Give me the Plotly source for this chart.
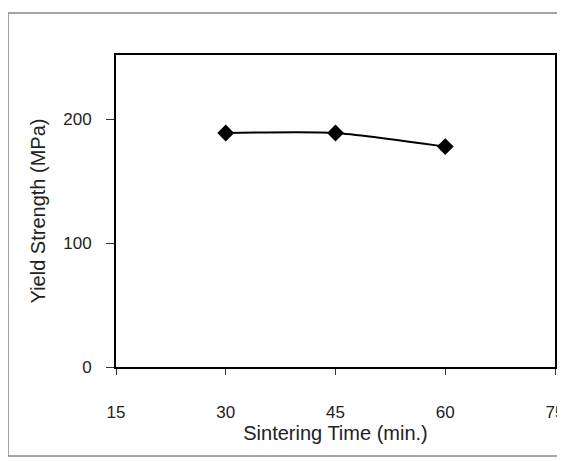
import plotly.graph_objects as go

time_min = [30, 45, 60]
yield_mpa = [189, 189, 178]
x_ticks = [15, 30, 45, 60, 75]
y_ticks = [0, 100, 200]

fig = go.Figure()
fig.add_trace(go.Scatter(
    x=time_min, y=yield_mpa, mode="lines+markers",
    line=dict(color="black", width=2, shape="spline", smoothing=0.6),
    marker=dict(symbol="diamond", size=13, color="black"),
    showlegend=False,
))

font = "Liberation Sans, Arial, sans-serif"
fig.update_layout(
    width=565, height=461,
    margin=dict(l=108, r=18, t=47, b=102),
    paper_bgcolor="white", plot_bgcolor="white",
    font=dict(family=font, color="#222", size=17),
    xaxis=dict(range=[15, 75], tickvals=x_ticks, ticks="outside", ticklen=6,
               tickcolor="#333", showline=True, linecolor="black", linewidth=2,
               mirror=True, showgrid=False, zeroline=False, automargin=False,
               ticklabelstandoff=23,
               title=dict(text="Sintering Time (min.)", font=dict(size=20), standoff=0)),
    yaxis=dict(range=[0, 252], tickvals=y_ticks, ticks="outside", ticklen=8,
               tickcolor="#333", showline=True, linecolor="black", linewidth=2,
               mirror=True, showgrid=False, zeroline=False, automargin=False,
               ticklabelstandoff=11,
               title=dict(text="Yield Strength (MPa)", font=dict(size=20), standoff=12)),
    shapes=[dict(type="rect", xref="paper", yref="paper",
                 x0=-0.246, x1=1.06, y0=-0.285, y1=1.135,
                 line=dict(color="#888", width=1.5), layer="below")],
)
fig.write_html("out.html")
